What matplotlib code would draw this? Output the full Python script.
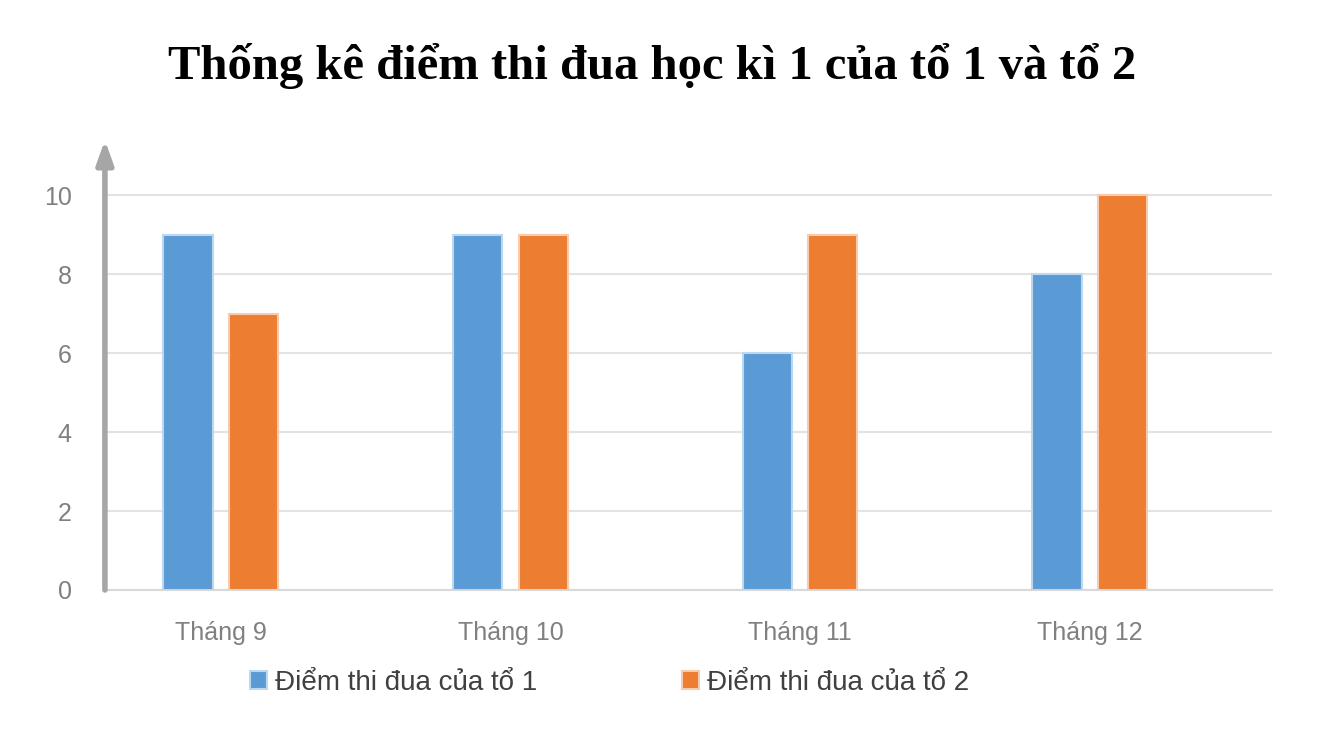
import matplotlib.pyplot as plt
import numpy as np

months = ["Tháng 9", "Tháng 10", "Tháng 11", "Tháng 12"]
to1 = [9, 9, 6, 8]
to2 = [7, 9, 9, 10]
yticks = [0, 2, 4, 6, 8, 10]

plt.rcParams['font.family'] = ['Liberation Sans', 'DejaVu Sans']

fig = plt.figure(figsize=(13.28, 7.53), dpi=100)
ax = fig.add_axes([0.079, 0.2165, 0.879, 0.5975])

x = np.arange(len(months))
w = 0.17
ax.bar(x - 0.113, to1, w, color="#5B9BD5", edgecolor="#BDD7EE", linewidth=1.5,
       label="Điểm thi đua của tổ 1", zorder=3)
ax.bar(x + 0.113, to2, w, color="#ED7D31", edgecolor="#F8CBAD", linewidth=1.5,
       label="Điểm thi đua của tổ 2", zorder=3)

ax.set_xlim(-0.4, 3.63)
ax.set_ylim(0, 11.4)
ax.set_yticks(yticks)
ax.set_xticks(x)
ax.set_xticklabels(months)
ax.grid(axis="y", color="#E3E3E3", linewidth=1.5, zorder=0)
ax.tick_params(axis="both", length=0, labelsize=18, colors="#808080")
ax.tick_params(axis="y", pad=24)
ax.tick_params(axis="x", pad=22)

for s in ["top", "right", "left"]:
    ax.spines[s].set_visible(False)
ax.spines["bottom"].set_color("#D9D9D9")
ax.spines["bottom"].set_linewidth(1.5)

# y axis with arrow head
ax.annotate("", xy=(0, 1.0), xytext=(0, 0), xycoords="axes fraction",
            arrowprops=dict(arrowstyle="-|>,head_width=0.5,head_length=1.4",
                            color="#A6A6A6", lw=4, shrinkA=0, shrinkB=0),
            zorder=4, annotation_clip=False)

fig.text(0.491, 0.913, "Thống kê điểm thi đua học kì 1 của tổ 1 và tổ 2",
         ha="center", va="center", fontsize=35, fontweight="bold",
         family=["Liberation Serif", "DejaVu Serif"])

fig.legend(loc="center", bbox_to_anchor=(0.459, 0.093), ncol=2, frameon=False,
           fontsize=20, handlelength=0.6, handleheight=0.6, handletextpad=0.3,
           columnspacing=5.2, labelcolor="#404040")

fig.savefig("out.png", dpi=100, facecolor="white")
